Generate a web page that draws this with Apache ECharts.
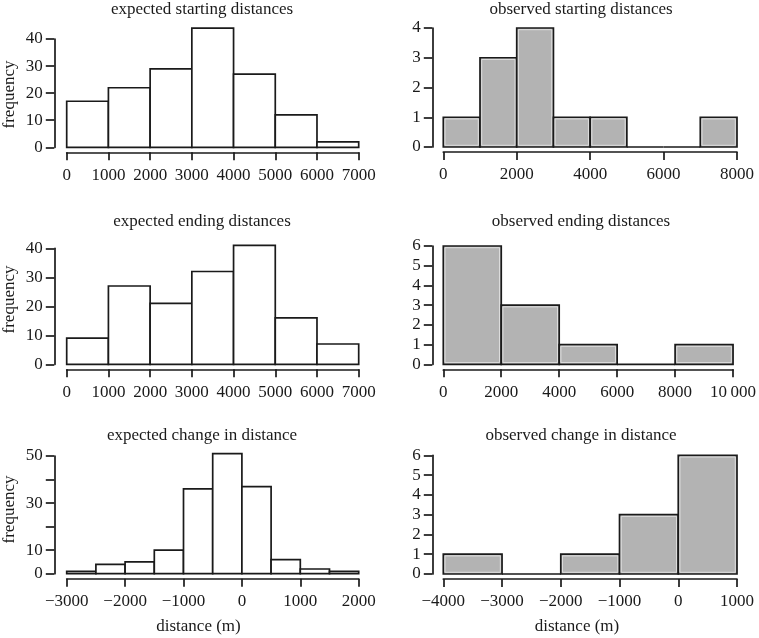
<!DOCTYPE html>
<html>
<head>
<meta charset="utf-8">
<script src="https://cdn.jsdelivr.net/npm/echarts@6/dist/echarts.min.js"></script>
<style>
html,body{margin:0;padding:0;background:#fff;}
#chart{width:759px;height:638px;}
</style>
</head>
<body>
<div id="chart"></div>
<script>
// ---- data (bin breaks and counts) ----
const expStartBreaks = [0, 1000, 2000, 3000, 4000, 5000, 6000, 7000];
const expStartCounts = [17, 22, 29, 44, 27, 12, 2];

const obsStartBreaks = [0, 1000, 2000, 3000, 4000, 5000, 6000, 7000, 8000];
const obsStartCounts = [1, 3, 4, 1, 1, 0, 0, 1];

const expEndBreaks = [0, 1000, 2000, 3000, 4000, 5000, 6000, 7000];
const expEndCounts = [9, 27, 21, 32, 41, 16, 7];

const obsEndBreaks = [0, 2000, 4000, 6000, 8000, 10000];
const obsEndCounts = [6, 3, 1, 0, 1];

const expChangeBreaks = [-3000, -2500, -2000, -1500, -1000, -500, 0, 500, 1000, 1500, 2000];
const expChangeCounts = [1, 4, 5, 10, 36, 51, 37, 6, 2, 1];

const obsChangeBreaks = [-4000, -3000, -2000, -1000, 0, 1000];
const obsChangeCounts = [1, 0, 1, 3, 6];

const panelTitles = [
  'expected starting distances', 'observed starting distances',
  'expected ending distances', 'observed ending distances',
  'expected change in distance', 'observed change in distance'
];
const yAxisLabel = 'frequency';
const xAxisLabel = 'distance (m)';
const expChangeYLabels = [0, 10, 30, 50];

// ---- build ----
const FONT = '"Liberation Serif", "DejaVu Serif", serif';
const FS = 17;
const INK = '#1a1a1a';

function toBins(breaks, counts) {
  return counts.map((c, i) => [breaks[i], breaks[i + 1], c]);
}

function fmtX(v) {
  if (v === 10000) return '10\u2009000';
  if (v < 0) return '\u2212' + Math.abs(v);
  return String(v);
}

const panels = [
  { bins: toBins(expStartBreaks, expStartCounts), obs: false, grid: { left: 66.7, top: 39, width: 292, height: 108.3 },
    x: [0, 7000, 1000], y: [0, 40, 10], yOff: 12.4 },
  { bins: toBins(obsStartBreaks, obsStartCounts), obs: true, grid: { left: 443.3, top: 28, width: 293.7, height: 119 },
    x: [0, 8000, 2000], y: [0, 4, 1], yOff: 11 },
  { bins: toBins(expEndBreaks, expEndCounts), obs: false, grid: { left: 66.7, top: 248.3, width: 292, height: 116 },
    x: [0, 7000, 1000], y: [0, 40, 10], yOff: 12.4 },
  { bins: toBins(obsEndBreaks, obsEndCounts), obs: true, grid: { left: 443.3, top: 246, width: 293.7, height: 118.3 },
    x: [0, 10000, 2000], y: [0, 6, 1], yOff: 11 },
  { bins: toBins(expChangeBreaks, expChangeCounts), obs: false, grid: { left: 66.7, top: 456, width: 292, height: 117.7 },
    x: [-3000, 2000, 1000], y: [0, 50, 10], yOff: 12.4, yShow: expChangeYLabels },
  { bins: toBins(obsChangeBreaks, obsChangeCounts), obs: true, grid: { left: 443.3, top: 455.3, width: 293.7, height: 118.7 },
    x: [-4000, 1000, 1000], y: [0, 6, 1], yOff: 11 }
];

function makeRender(obs) {
  return function (params, api) {
    const x0 = api.value(0), x1 = api.value(1), c = api.value(2);
    const pTop = api.coord([x0, c]);
    const pBot = api.coord([x1, 0]);
    const x = pTop[0], y = pTop[1], w = pBot[0] - pTop[0], h = pBot[1] - pTop[1];
    const children = [{
      type: 'rect',
      shape: { x: x, y: y, width: w, height: h },
      style: { fill: obs ? '#b3b3b3' : '#ffffff', stroke: INK, lineWidth: 1.7 }
    }];
    if (obs && h > 4) {
      children.push({
        type: 'rect',
        shape: { x: x + 1.7, y: y + 1.7, width: w - 3.4, height: h - 3.4 },
        style: { fill: 'none', stroke: '#dedede', lineWidth: 1 }
      });
    }
    return { type: 'group', children: children };
  };
}

const grids = [], xAxes = [], yAxes = [], series = [];
panels.forEach((p, i) => {
  grids.push(Object.assign({ containLabel: false }, p.grid));
  xAxes.push({
    type: 'value', gridIndex: i, min: p.x[0], max: p.x[1], interval: p.x[2],
    offset: 5,
    axisLine: { show: true, onZero: false, lineStyle: { color: INK, width: 1.7 } },
    axisTick: { show: true, length: 8, lineStyle: { color: INK, width: 1.7 } },
    axisLabel: { show: true, margin: 14.5, color: INK, fontFamily: FONT, fontSize: FS,
      formatter: fmtX, showMinLabel: true, showMaxLabel: true, hideOverlap: false },
    splitLine: { show: false }
  });
  const yShow = p.yShow;
  yAxes.push({
    type: 'value', gridIndex: i, min: p.y[0], max: p.y[1], interval: p.y[2],
    offset: p.yOff, position: 'left',
    axisLine: { show: true, onZero: false, lineStyle: { color: INK, width: 1.7 } },
    axisTick: { show: true, length: 8.5, lineStyle: { color: INK, width: 1.7 } },
    axisLabel: { show: true, margin: 11.5, color: INK, fontFamily: FONT, fontSize: FS,
      showMinLabel: true, showMaxLabel: true, hideOverlap: false,
      formatter: function (v) { return (!yShow || yShow.indexOf(v) >= 0) ? String(v) : ''; } },
    splitLine: { show: false }
  });
  series.push({
    type: 'custom', xAxisIndex: i, yAxisIndex: i, clip: false,
    renderItem: makeRender(p.obs),
    encode: { x: [0, 1], y: 2 },
    data: p.bins,
    silent: true
  });
});

function txt(s, x, y, rot) {
  return {
    type: 'text', x: x, y: y, rotation: rot || 0,
    style: { text: s, fill: INK, font: FS + 'px ' + FONT, align: 'center', verticalAlign: 'middle' }
  };
}

const titlePos = [[202, 10], [581, 10], [202, 222], [581, 222], [202, 435.5], [581, 435.5]];
const graphics = panelTitles.map((t, i) => txt(t, titlePos[i][0], titlePos[i][1]));
graphics.push(txt(yAxisLabel, 10, 94.5, Math.PI / 2));
graphics.push(txt(yAxisLabel, 10, 299.5, Math.PI / 2));
graphics.push(txt(yAxisLabel, 10, 509.5, Math.PI / 2));
graphics.push(txt(xAxisLabel, 198.5, 627));
graphics.push(txt(xAxisLabel, 577, 627));

const chart = echarts.init(document.getElementById('chart'), null, { renderer: 'canvas' });
chart.setOption({
  backgroundColor: '#ffffff',
  animation: false,
  grid: grids,
  xAxis: xAxes,
  yAxis: yAxes,
  series: series,
  graphic: graphics
});
</script>
</body>
</html>
